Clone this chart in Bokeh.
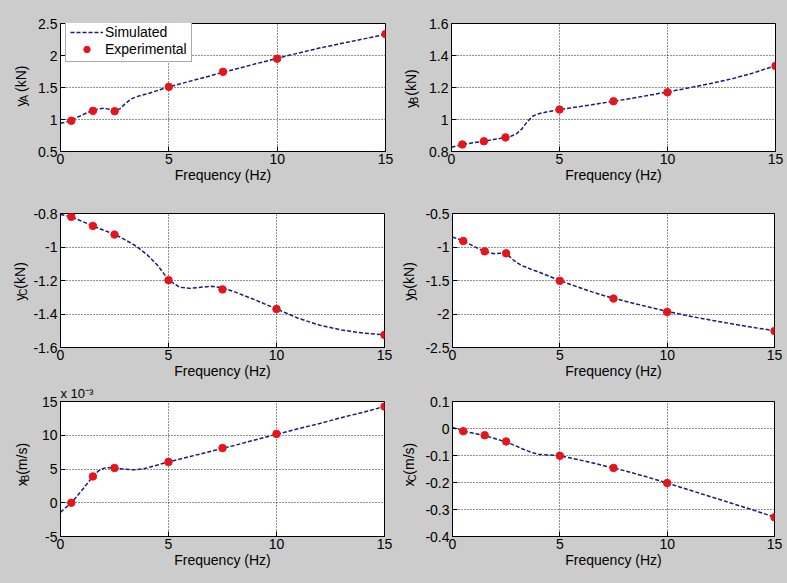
from bokeh.plotting import figure
from bokeh.models import FixedTicker, Range1d, Legend, LegendItem
from bokeh.core.properties import value
from bokeh.layouts import column, row
from bokeh.embed import file_html
from bokeh.resources import INLINE

# ---------------- data ----------------
freq_exp = [0.5, 1.5, 2.5, 5, 7.5, 10, 15]
freq_sim = [0, 0.25, 0.5, 0.75, 1, 1.25, 1.5, 1.75, 2, 2.25, 2.5, 2.75, 3, 3.25, 3.5,
            3.75, 4, 4.5, 5, 5.5, 6, 6.5, 7, 7.5, 8, 9, 10, 11, 12, 13, 14, 15]

yA_sim = [0.94, 0.96, 0.99, 1.03, 1.07, 1.11, 1.14, 1.165, 1.175, 1.16, 1.135, 1.17, 1.25,
          1.32, 1.355, 1.38, 1.40, 1.455, 1.51, 1.555, 1.60, 1.645, 1.69, 1.74, 1.78, 1.87,
          1.955, 2.04, 2.12, 2.19, 2.26, 2.33]
yA_exp = [0.98, 1.135, 1.13, 1.51, 1.745, 1.95, 2.335]

yB_sim = [0.826, 0.835, 0.844, 0.849, 0.855, 0.86, 0.865, 0.87, 0.876, 0.882, 0.888, 0.895,
          0.91, 0.94, 0.985, 1.02, 1.035, 1.05, 1.062, 1.072, 1.082, 1.092, 1.103, 1.114,
          1.125, 1.148, 1.172, 1.198, 1.225, 1.255, 1.292, 1.337]
yB_exp = [0.844, 0.864, 0.888, 1.062, 1.114, 1.17, 1.335]

yC_sim = [-0.806, -0.813, -0.82, -0.833, -0.847, -0.86, -0.874, -0.887, -0.9, -0.912, -0.925,
          -0.94, -0.958, -0.975, -0.995, -1.02, -1.045, -1.11, -1.196, -1.24, -1.247, -1.24,
          -1.235, -1.244, -1.265, -1.315, -1.37, -1.425, -1.467, -1.495, -1.514, -1.524]
yC_exp = [-0.82, -0.874, -0.926, -1.198, -1.253, -1.37, -1.525]

yD_sim = [-0.85, -0.88, -0.91, -0.95, -0.99, -1.03, -1.065, -1.09, -1.10, -1.095, -1.09,
          -1.17, -1.235, -1.28, -1.31, -1.345, -1.37, -1.435, -1.50, -1.56, -1.615, -1.67,
          -1.72, -1.765, -1.805, -1.885, -1.96, -2.03, -2.09, -2.145, -2.2, -2.25]
yD_exp = [-0.91, -1.065, -1.095, -1.505, -1.77, -1.97, -2.255]

xB_sim = [-1.4, -0.7, 0.0, 0.9, 1.9, 2.9, 3.9, 4.7, 5.1, 5.2, 5.15, 5.05, 4.95, 4.9, 4.9,
          5.0, 5.15, 5.6, 6.05, 6.45, 6.85, 7.25, 7.65, 8.05, 8.45, 9.3, 10.15, 10.95, 11.75,
          12.6, 13.4, 14.25]  # x 10^-3
xB_exp = [0.0, 3.9, 5.15, 6.05, 8.1, 10.2, 14.25]  # x 10^-3

xC_sim = [0.004, -0.003, -0.009, -0.014, -0.018, -0.022, -0.027, -0.032, -0.038, -0.044,
          -0.05, -0.058, -0.066, -0.075, -0.083, -0.09, -0.096, -0.098, -0.101, -0.109,
          -0.118, -0.127, -0.137, -0.146, -0.156, -0.178, -0.202, -0.227, -0.252, -0.277,
          -0.302, -0.328]
xC_exp = [-0.01, -0.025, -0.048, -0.101, -0.146, -0.202, -0.329]

x_ticks = [0, 5, 10, 15]
x_tick_labels = ["0", "5", "10", "15"]
yA_ticks = [0.5, 1, 1.5, 2, 2.5]
yA_tick_labels = ["0.5", "1", "1.5", "2", "2.5"]
yB_ticks = [0.8, 1, 1.2, 1.4, 1.6]
yB_tick_labels = ["0.8", "1", "1.2", "1.4", "1.6"]
yC_ticks = [-1.6, -1.4, -1.2, -1, -0.8]
yC_tick_labels = ["-1.6", "-1.4", "-1.2", "-1", "-0.8"]
yD_ticks = [-2.5, -2, -1.5, -1, -0.5]
yD_tick_labels = ["-2.5", "-2", "-1.5", "-1", "-0.5"]
xB_ticks = [-5, 0, 5, 10, 15]
xB_tick_labels = ["-5", "0", "5", "10", "15"]
xC_ticks = [-0.4, -0.3, -0.2, -0.1, 0, 0.1]
xC_tick_labels = ["-0.4", "-0.3", "-0.2", "-0.1", "0", "0.1"]

# ---------------- style ----------------
BG = "#cccccc"
FONT = "Liberation Sans"
LINE_COLOR = "#1a1a78"
DOT_COLOR = "#e8141c"
EM = {"y": .5, "x": .5, "A": .667, "B": .667, "C": .722, "D": .722, " ": .278,
      "(": .333, ")": .333, "k": .5, "N": .722, "m": .833, "/": .278, "s": .5}
S_MAIN, S_SUB = 14, 10


def tw(s, size):
    return sum(EM.get(c, .55) for c in s) * size


def label_fig(w, h, cy, bx, main, sub, unit, gap=3):
    """Narrow strip holding the rotated y-axis label with its subscript."""
    f = figure(width=w, height=h, output_backend="svg", toolbar_location=None,
               title=None, x_range=Range1d(0, w), y_range=Range1d(0, h),
               x_axis_location=None, y_axis_location=None, min_border=0)
    f.outline_line_color = None
    f.background_fill_color = BG
    f.border_fill_color = BG
    f.grid.visible = False
    total = tw(main, S_MAIN) + tw(sub, S_SUB) + gap + tw(unit, S_MAIN)
    s0 = cy - 13 - total / 2
    common = dict(angle=90, angle_units="deg", text_font=value(FONT), text_color="black",
                  text_align="left", text_baseline="alphabetic")
    f.text(x=[bx], y=[s0], text=[main], text_font_size=f"{S_MAIN}px", **common)
    f.text(x=[bx + 4], y=[s0 + tw(main, S_MAIN)], text=[sub],
           text_font_size=f"{S_SUB}px", **common)
    f.text(x=[bx], y=[s0 + tw(main, S_MAIN) + tw(sub, S_SUB) + gap], text=[unit],
           text_font_size=f"{S_MAIN}px", **common)
    return f


def style_axis(ax):
    ax.major_tick_in = 5
    ax.major_tick_out = 0
    ax.minor_tick_in = 0
    ax.minor_tick_out = 0
    ax.axis_line_color = "black"
    ax.major_tick_line_color = "black"
    ax.major_label_text_font = FONT
    ax.major_label_text_color = "black"
    ax.major_label_text_font_size = "14px"
    ax.major_label_standoff = 3


def panel(w, h, bl, br, bt, bb, sim, exp, yr, yt, ytl, legend=False, exponent=None):
    p = figure(width=w, height=h, output_backend="svg", toolbar_location=None,
               x_range=Range1d(0, 15), y_range=Range1d(*yr),
               min_border_left=bl, min_border_right=br, min_border_top=bt,
               min_border_bottom=bb)
    p.background_fill_color = "white"
    p.border_fill_color = BG
    p.outline_line_color = "black"
    p.outline_line_width = 1

    p.xaxis.ticker = FixedTicker(ticks=x_ticks)
    p.xaxis.major_label_overrides = dict(zip(x_ticks, x_tick_labels))
    p.yaxis.ticker = FixedTicker(ticks=yt)
    p.yaxis.major_label_overrides = dict(zip(yt, ytl))
    style_axis(p.xaxis[0])
    style_axis(p.yaxis[0])
    p.xaxis.major_label_standoff = 2
    p.xaxis.axis_label = "Frequency (Hz)"
    p.xaxis.axis_label_text_font = FONT
    p.xaxis.axis_label_text_font_size = "14px"
    p.xaxis.axis_label_text_font_style = "normal"
    p.xaxis.axis_label_text_color = "black"
    p.xaxis.axis_label_standoff = 0

    for g in (p.xgrid[0], p.ygrid[0]):
        g.grid_line_color = "#222222"
        g.grid_line_dash = "1 2"
        g.grid_line_width = 1

    r_line = p.line(freq_sim, sim, line_color=LINE_COLOR, line_width=1.5, line_dash="4 2")
    r_pts = p.scatter(freq_exp, exp, size=7.5, fill_color=DOT_COLOR, line_color=DOT_COLOR)

    fh = h - bt - bb
    if exponent:
        p.title.text = exponent
        p.title.align = "left"
        p.title.standoff = 1
        p.title.text_font = FONT
        p.title.text_font_size = "13px"
        p.title.text_font_style = "normal"
        p.title.text_color = "black"

    if legend:
        lg = Legend(items=[LegendItem(label="Simulated", renderers=[r_line]),
                           LegendItem(label="Experimental", renderers=[r_pts])],
                    location=(5, fh - 1 - 40))
        lg.label_text_font = FONT
        lg.label_text_font_size = "14px"
        lg.label_text_color = "black"
        lg.glyph_width = 33
        lg.glyph_height = 16
        lg.label_height = 16
        lg.spacing = 1
        lg.padding = 4
        lg.margin = 0
        lg.label_standoff = 2
        lg.border_line_color = "#555555"
        lg.background_fill_color = "white"
        lg.background_fill_alpha = 1
        p.add_layout(lg)
    return p


# column widths: label strip | plot | label strip | plot
LW1, PW1, LW2, PW2 = 30, 365, 27, 363
H1, H2, H3 = 193, 190, 198

# top row: frames at y 21-151 (left) and 23-157 (right)
l1 = label_fig(LW1, H1, H1 - 21 - 65, 20, "y", "A", " (kN)", gap=8)
f1 = panel(PW1, H1, 30, 10, 21, 42, yA_sim, yA_exp, (0.5, 2.5), yA_ticks, yA_tick_labels,
           legend=True)
l2 = label_fig(LW2, H1, H1 - 23 - 67, 15, "y", "B", " (kN)", gap=5)
f2 = panel(PW2, H1, 29, 10, 23, 36, yB_sim, yB_exp, (0.8, 1.6), yB_ticks, yB_tick_labels)

# middle row: frames at y 213-347
l3 = label_fig(LW1, H2, H2 - 20 - 67, 19, "y", "C", " (kN)")
f3 = panel(PW1, H2, 30, 11, 20, 36, yC_sim, yC_exp, (-1.6, -0.8), yC_ticks, yC_tick_labels)
l4 = label_fig(LW2, H2, H2 - 20 - 67, 13, "y", "D", " (kN)")
f4 = panel(PW2, H2, 29, 11, 20, 36, yD_sim, yD_exp, (-2.5, -0.5), yD_ticks, yD_tick_labels)

# bottom row: frames at y 401-536
l5 = label_fig(LW1, H3, H3 - 18 - 67, 21, "x", "B", " (m/s)")
f5 = panel(PW1, H3, 30, 11, 18, 45, xB_sim, xB_exp, (-5, 15), xB_ticks, xB_tick_labels,
           exponent="x 10\u207b\u00b3")
l6 = label_fig(LW2, H3, H3 - 18 - 67, 13, "x", "C", " (m/s)")
f6 = panel(PW2, H3, 29, 11, 18, 45, xC_sim, xC_exp, (-0.4, 0.1), xC_ticks, xC_tick_labels)

layout = column(row(l1, f1, l2, f2), row(l3, f3, l4, f4), row(l5, f5, l6, f6))

html = file_html(layout, INLINE, "Frequency response")
html = html.replace("</head>", "<style>html, body { background: #cccccc; }</style>\n</head>", 1)
open("out.html", "w").write(html)
